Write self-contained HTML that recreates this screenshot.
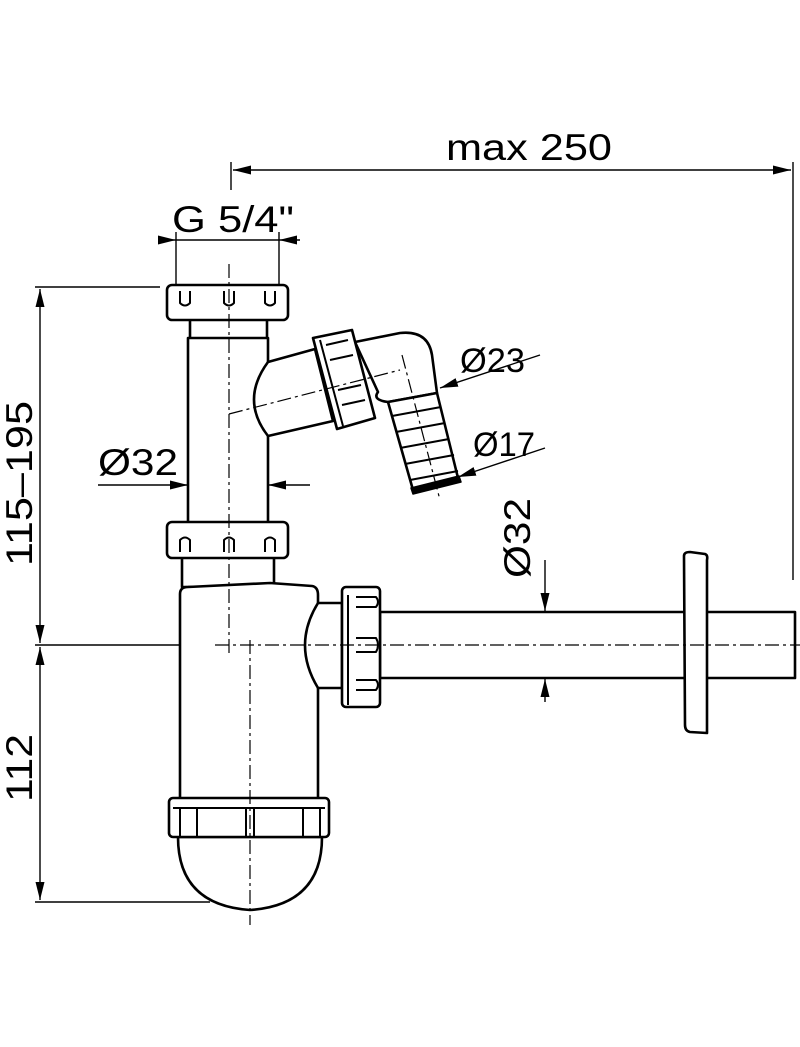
<!DOCTYPE html>
<html><head><meta charset="utf-8"><style>
html,body{margin:0;padding:0;background:#fff;}
svg{display:block;}
text{font-family:"Liberation Sans",sans-serif;fill:#000;}
</style></head><body>
<svg width="800" height="1047" viewBox="0 0 800 1047" xmlns="http://www.w3.org/2000/svg">
<defs>
<marker id="b" viewBox="0 0 18 9" refX="18" refY="4.5" markerWidth="18" markerHeight="9" markerUnits="userSpaceOnUse" orient="auto-start-reverse"><path d="M0,0 L18,4.5 L0,9z" fill="#000"/></marker>
</defs>
<g fill="none" stroke="#000" stroke-width="1.4">
<line x1="231" y1="162" x2="231" y2="190"/>
<line x1="793" y1="162" x2="793" y2="580"/>
<line x1="233" y1="170" x2="791" y2="170" marker-start="url(#b)" marker-end="url(#b)"/>
<line x1="176" y1="232" x2="176" y2="284"/>
<line x1="279" y1="232" x2="279" y2="284"/>
<line x1="158" y1="240" x2="176" y2="240" marker-end="url(#b)"/>
<line x1="176" y1="240" x2="279" y2="240"/>
<line x1="300" y1="240" x2="279" y2="240" marker-end="url(#b)"/>
<line x1="35" y1="287" x2="160" y2="287"/>
<line x1="35" y1="645" x2="215" y2="645"/>
<line x1="35" y1="902" x2="210" y2="902"/>
<line x1="40" y1="289" x2="40" y2="643" marker-start="url(#b)" marker-end="url(#b)"/>
<line x1="40" y1="647" x2="40" y2="900" marker-start="url(#b)" marker-end="url(#b)"/>
<line x1="98" y1="485" x2="188" y2="485" marker-end="url(#b)"/>
<line x1="188" y1="485" x2="268" y2="485"/>
<line x1="310" y1="485" x2="268" y2="485" marker-end="url(#b)"/>
<line x1="545" y1="560" x2="545" y2="611" marker-end="url(#b)"/>
<line x1="545" y1="611" x2="545" y2="679"/>
<line x1="545" y1="702" x2="545" y2="679" marker-end="url(#b)"/>
<line x1="540" y1="355" x2="440" y2="388" marker-end="url(#b)"/>
<line x1="545" y1="448" x2="458" y2="477" marker-end="url(#b)"/>
</g>
<g fill="#fff" stroke="#000" stroke-width="2.6" stroke-linejoin="round">
<rect x="190" y="318" width="77" height="22"/>
<rect x="188" y="338" width="80" height="186"/>
<rect x="167" y="285" width="121" height="35" rx="5"/>
<path d="M180,291 v12 q5,5 10,0 v-12 M224,291 v12 q5,5 10,0 v-12 M265,291 v12 q5,5 10,0 v-12" fill="none" stroke-width="2"/>
<path d="M268,362 L315,349 L333,421 L268,436 Q240,400 268,362z"/>
<path d="M355,342 L400,333 Q428,330 432,355 L437,393 L388,402 Q372,400 378,392 z"/>
<path d="M388,402 L437,393 L458,478 L413,490 z"/>
<path d="M392,416 L441,407 M396,432 L445,423 M400,448 L449,439 M405,464 L454,455 M410,480 L458,471" fill="none" stroke-width="2"/>
<path d="M411,488 L459,476 L461,482 L413,494 z" fill="#000" stroke-width="1.5"/>
<path d="M313,338 L352,330 L375,418 L337,429 z"/>
<path d="M320,340 L343,426" fill="none" stroke-width="2"/>
<path d="M326,345 L348,340 M330,360 L353,355 M338,390 L361,385 M342,405 L365,400" fill="none" stroke-width="2"/>
<rect x="182" y="555" width="92" height="32"/>
<rect x="167" y="522" width="121" height="36" rx="5"/>
<path d="M180,552 v-12 q5,-5 10,0 v12 M224,552 v-12 q5,-5 10,0 v12 M265,552 v-12 q5,-5 10,0 v12" fill="none" stroke-width="2"/>
<path d="M180,800 L180,594 Q180,587 188,587 L270,583 L312,586 Q318,587 318,595 L318,603 L342,603 L342,688 L318,688 L318,800 z"/>
<path d="M318,603 Q292,645 318,688" fill="none"/>
<rect x="380" y="612" width="415" height="66"/>
<path d="M684,556 Q684,552 690,552 L705,554 Q708,555 707,560 L707,733 L690,732 Q685,731 685,725 z"/>
<rect x="342" y="587" width="38" height="120" rx="4"/>
<path d="M348,595 v110 M356,597 h20 q4,5 0,10 h-20 M356,638 h20 q4,7 0,14 h-20 M356,680 h20 q4,5 0,10 h-20" fill="none" stroke-width="2"/>
<path d="M178,837 Q178,905 250,910 Q322,905 322,837 z"/>
<rect x="169" y="798" width="160" height="39" rx="4"/>
<path d="M173,808 h152 M180,808 v28 M197,808 v28 M246,808 v28 M254,808 v28 M303,808 v28 M320,808 v28" fill="none" stroke-width="2"/>
</g>
<g fill="none" stroke="#000" stroke-width="1.2" stroke-dasharray="14,4,3,4">
<line x1="229" y1="264" x2="229" y2="655"/>
<line x1="250" y1="640" x2="250" y2="925"/>
<line x1="215" y1="645" x2="800" y2="645"/>
<line x1="229" y1="414" x2="400" y2="370"/>
<line x1="402" y1="355" x2="440" y2="500"/>
</g>
<text x="446" y="160" font-size="37" textLength="166" lengthAdjust="spacingAndGlyphs">max 250</text>
<text x="172" y="232" font-size="37" textLength="122" lengthAdjust="spacingAndGlyphs">G 5/4"</text>
<text x="98" y="475" font-size="37" textLength="80" lengthAdjust="spacingAndGlyphs">Ø32</text>
<text x="460" y="372" font-size="34" textLength="65" lengthAdjust="spacingAndGlyphs">Ø23</text>
<text x="473" y="456" font-size="34" textLength="62" lengthAdjust="spacingAndGlyphs">Ø17</text>
<text transform="translate(530,578) rotate(-90)" font-size="37" textLength="80" lengthAdjust="spacingAndGlyphs">Ø32</text>
<text transform="translate(32,566) rotate(-90)" font-size="37" textLength="165" lengthAdjust="spacingAndGlyphs">115–195</text>
<text transform="translate(32,802) rotate(-90)" font-size="37" textLength="68" lengthAdjust="spacingAndGlyphs">112</text>
</svg>
</body></html>
